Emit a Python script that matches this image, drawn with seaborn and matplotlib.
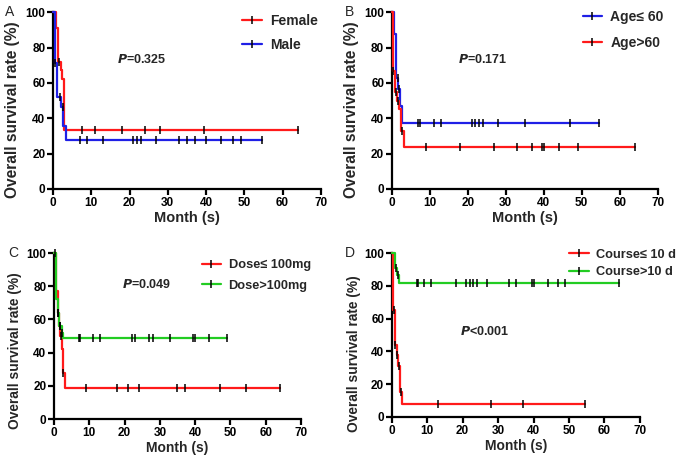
import numpy as np
import pandas as pd
import matplotlib
matplotlib.use("Agg")
import matplotlib.pyplot as plt
from matplotlib.lines import Line2D
import seaborn as sns

sns.set_style("ticks")
plt.rcParams["font.family"] = ["Liberation Sans", "DejaVu Sans"]

RED = "#ff1a1a"
BLUE = "#1f1fe6"
GREEN = "#22cc22"

# ---------------- data ----------------
# Panel A: gender
female_t = [0, 0.8, 1.4, 2.0, 2.4, 2.9, 64]
female_s = [100, 91, 72, 67, 62, 33.3, 33.3]
female_c = [1.6, 7.5, 11, 18, 24, 28, 39.5, 64]
male_t = [0, 0.5, 1.1, 2.0, 2.7, 3.3, 54.5]
male_s = [100, 71, 52, 46.5, 35.5, 27.8, 27.8]
male_c = [0.6, 1.8, 2.5, 7, 9, 13, 21, 22, 23, 27, 33, 35, 37, 40, 44, 47, 49, 54.5]

# Panel B: age
young_t = [0, 0.7, 1.2, 1.7, 2.2, 2.6, 54.5]
young_s = [100, 87.5, 62.5, 56.3, 46.9, 37.5, 37.5]
young_c = [1.5, 2.0, 7, 7.3, 11, 13, 21, 22, 23, 24, 28, 35, 47, 54.5]
old_t = [0, 0.4, 0.9, 1.3, 1.9, 2.5, 3.1, 64]
old_s = [100, 66.7, 55, 50, 45, 33, 23.5, 23.5]
old_c = [0.4, 1.1, 1.6, 2.6, 9, 18, 27, 33, 37, 39.5, 40, 44, 49, 64]

# Panel C: dose
lowdose_t = [0, 0.5, 1.0, 1.4, 1.8, 2.2, 2.5, 3.0, 64]
lowdose_s = [100, 77, 63.6, 56, 50, 42, 27.5, 18.8, 18.8]
lowdose_c = [1.2, 1.6, 2.0, 2.6, 9, 18, 21, 24, 35, 37, 47, 54.5, 64]
highdose_t = [0, 0.5, 1.0, 1.4, 2.2, 2.5, 49]
highdose_s = [100, 72.5, 64, 56, 52, 48.8, 48.8]
highdose_c = [0.4, 1.0, 1.8, 2.4, 7, 7.5, 11, 13, 22, 23, 27, 28, 33, 39.5, 40, 44, 49]

# Panel D: course
short_t = [0, 0.3, 0.8, 1.4, 1.8, 2.3, 2.8, 54.5]
short_s = [100, 65.4, 44, 38, 30.8, 15.4, 7.7, 7.7]
short_c = [0.5, 1.0, 1.6, 2.1, 2.5, 13, 28, 37, 54.5]
long_t = [0, 1.0, 1.6, 2.0, 64]
long_s = [100, 90.9, 86.4, 81.8, 81.8]
long_c = [1.2, 1.8, 7, 7.3, 9, 11, 18, 21, 22, 23, 24, 27, 33, 35, 39.5, 40, 44, 47, 49, 64]

panels = [
    dict(letter="A", lx=0.007, pos=[0.0774, 0.5918, 0.391, 0.382], p="0.325", sym="=", ptxt=(16.7, 73),
         curves=[("Female", female_t, female_s, female_c, RED),
                 ("Male", male_t, male_s, male_c, BLUE)],
         leg=dict(anchor=(0.671, 1.046), spacing=0.75, size=10, hl=1.4),
         ylab=dict(size=11.2, x=-0.123, y=0.446), xlab=10.5),
    dict(letter="B", lx=0.504, pos=[0.572, 0.5918, 0.388, 0.382], p="0.171", sym="=", ptxt=(17.4, 73),
         curves=[("Age\u2264 60", young_t, young_s, young_c, BLUE),
                 ("Age>60", old_t, old_s, old_c, RED)],
         leg=dict(anchor=(0.681, 1.067), spacing=0.85, size=10, hl=1.4),
         ylab=dict(size=11.2, x=-0.124, y=0.446), xlab=10.5),
    dict(letter="C", lx=0.012, pos=[0.0788, 0.095, 0.3606, 0.3585], p="0.049", sym="=", ptxt=(19.3, 81),
         curves=[("Dose\u2264 100mg", lowdose_t, lowdose_s, lowdose_c, RED),
                 ("Dose>100mg", highdose_t, highdose_s, highdose_c, GREEN)],
         leg=dict(anchor=(0.562, 1.018), spacing=0.68, size=9.2, hl=1.5),
         ylab=dict(size=9.9, x=-0.13, y=0.41), xlab=10),
    dict(letter="D", lx=0.504, pos=[0.572, 0.0994, 0.362, 0.354], p="0.001", sym="<", ptxt=(19.2, 52),
         curves=[("Course\u2264 10 d", short_t, short_s, short_c, RED),
                 ("Course>10 d", long_t, long_s, long_c, GREEN)],
         leg=dict(anchor=(0.68, 1.08), spacing=0.4, size=9.2, hl=1.5),
         ylab=dict(size=9.9, x=-0.125, y=0.384), xlab=10),
]


def surv_at(t, s, times):
    t = np.asarray(t, float)
    s = np.asarray(s, float)
    idx = np.searchsorted(t, np.asarray(times, float), side="right") - 1
    return s[np.clip(idx, 0, len(s) - 1)]


fig = plt.figure(figsize=(6.85, 4.63), dpi=100)

for pn in panels:
    ax = fig.add_axes(pn["pos"])
    handles = []
    for label, t, s, c, col in pn["curves"]:
        df = pd.DataFrame({"t": t, "s": s})
        sns.lineplot(data=df, x="t", y="s", drawstyle="steps-post", color=col,
                     lw=1.6, estimator=None, sort=False, ax=ax, legend=False,
                     clip_on=False, zorder=3)
        cdf = pd.DataFrame({"t": c, "s": surv_at(t, s, c)})
        sns.scatterplot(data=cdf, x="t", y="s", marker="|", color="black", s=28,
                        linewidth=1.1, ax=ax, legend=False, zorder=4, clip_on=False)
        handles.append(Line2D([], [], color=col, lw=1.6, marker="|", mec="black",
                              mfc="black", ms=6, mew=1.1, label=label))
    ax.set_xlim(0, 70)
    ax.set_ylim(0, 100)
    ax.set_xticks(np.arange(0, 71, 10))
    ax.set_yticks(np.arange(0, 101, 20))
    for sp in ["top", "right"]:
        ax.spines[sp].set_visible(False)
    for sp in ["left", "bottom"]:
        ax.spines[sp].set_linewidth(1.6)
        ax.spines[sp].set_color("black")
    ax.tick_params(axis="both", direction="out", length=4, width=1.6,
                   labelsize=8.5, pad=1.5, colors="black")
    for lbl in ax.get_xticklabels() + ax.get_yticklabels():
        lbl.set_fontweight("bold")
    ax.set_xlabel("Month (s)", fontsize=pn["xlab"], fontweight="bold", labelpad=2)
    yl = pn["ylab"]
    ax.set_ylabel("Overall survival rate (%)", fontsize=yl["size"], fontweight="bold")
    ax.yaxis.set_label_coords(yl["x"], yl["y"])
    ax.text(pn["ptxt"][0], pn["ptxt"][1], f"$\\mathbfit{{P}}$" + pn["sym"] + pn["p"],
            fontsize=9, fontweight="bold", ha="left", va="center")
    lg = pn["leg"]
    ax.legend(handles=handles, loc="upper left", bbox_to_anchor=lg["anchor"],
              frameon=False, handlelength=lg["hl"], handletextpad=0.6,
              labelspacing=lg["spacing"], borderaxespad=0.3,
              prop=dict(weight="bold", size=lg["size"]))
    bb = pn["pos"]
    fig.text(pn["lx"], bb[1] + bb[3], pn["letter"], fontsize=10,
             ha="left", va="center")

fig.savefig("out.png", dpi=100)
